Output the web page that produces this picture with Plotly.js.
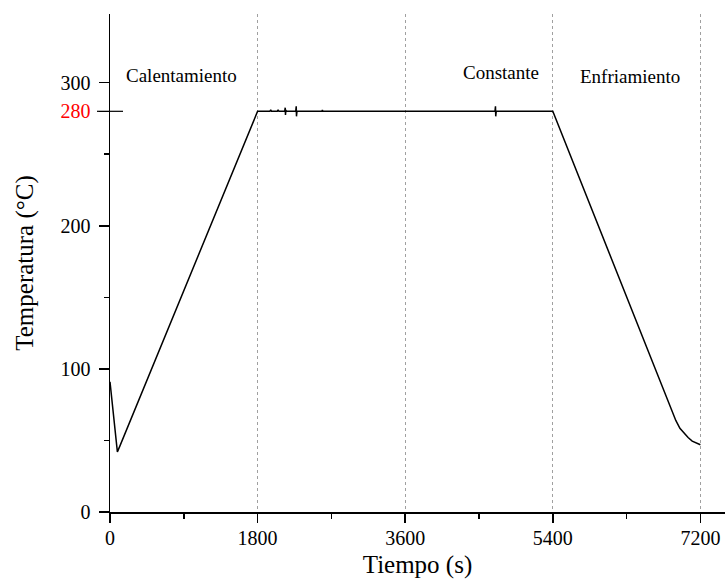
<!DOCTYPE html>
<html>
<head>
<meta charset="utf-8">
<script src="https://cdn.plot.ly/plotly-3.0.1.min.js"></script>
<style>html,body{margin:0;padding:0;background:#fff;}#chart{width:725px;height:587px;}</style>
</head>
<body>
<div id="chart"></div>
<script>
// Time (s) and temperature (°C)
const timeS = [0, 20, 45, 70, 90, 120, 1800,
  1950, 1960, 1970, 2040, 2050, 2060, 2130, 2137, 2140, 2145, 2150,
  2265, 2271, 2274, 2280, 2585, 2590, 2595,
  4695, 4701, 4704, 4710, 5400,
  6900, 6950, 7000, 7050, 7100, 7150, 7200];
const tempC = [91, 80, 63, 49, 42, 46, 280,
  280, 281, 280, 280, 281, 280, 280, 282.5, 277.5, 281, 280,
  280, 283.5, 276.5, 280, 280, 281, 280,
  280, 283.5, 276.5, 280, 280,
  64, 58.5, 55, 52, 49.5, 48, 47];

const xTickVals = [0, 1800, 3600, 5400, 7200];
const xTickText = ['0', '1800', '3600', '5400', '7200'];
const yTickVals = [0, 100, 200, 280, 300];
const yTickText = ['0', '100', '200', '<span style="color:red">280</span>', '300'];

const phaseLabels = ['Calentamiento', 'Constante', 'Enfriamiento'];
const phaseX = [867, 4774, 6337];
const phaseY = [305, 307, 304];

const font = 'Liberation Serif, Times New Roman, serif';

const trace = {
  x: timeS, y: tempC, type: 'scatter', mode: 'lines',
  line: {color: '#000', width: 1.5}, hoverinfo: 'skip'
};

const layout = {
  width: 725, height: 587,
  margin: {l: 110, r: 0, t: 14, b: 75},
  paper_bgcolor: '#fff', plot_bgcolor: '#fff',
  showlegend: false,
  font: {family: font, color: '#000', size: 20},
  xaxis: {
    range: [0, 7500], tickmode: 'array', tickvals: xTickVals, ticktext: xTickText,
    ticks: 'outside', ticklen: 9, tickwidth: 1.5, tickcolor: '#000',
    ticklabelstandoff: -2,
    showline: true, linecolor: '#000', linewidth: 1.5,
    showgrid: true, gridcolor: '#a0a0a0', gridwidth: 1, griddash: '3px,3px',
    zeroline: false,
    minor: {tick0: 0, dtick: 900, ticks: 'outside', ticklen: 5, tickwidth: 1.5, tickcolor: '#000', showgrid: false},
    tickfont: {family: font, size: 20, color: '#000'},
    title: {text: 'Tiempo (s)', font: {family: font, size: 25, color: '#000'}, standoff: 8},
    automargin: false
  },
  yaxis: {
    range: [0, 348], tickmode: 'array', tickvals: yTickVals, ticktext: yTickText,
    ticks: 'outside', ticklen: 10, tickwidth: 1.5, tickcolor: '#000',
    ticklabelstandoff: 4,
    showline: true, linecolor: '#000', linewidth: 1.5,
    showgrid: false, zeroline: false,
    minor: {tick0: 0, dtick: 50, ticks: 'outside', ticklen: 5, tickwidth: 1.5, tickcolor: '#000', showgrid: false},
    tickfont: {family: font, size: 20, color: '#000'},
    title: {text: 'Temperatura (°C)', font: {family: font, size: 25, color: '#000'}, standoff: 20},
    automargin: false
  },
  shapes: [{
    type: 'line', xref: 'paper', yref: 'y',
    x0: -13 / 615, x1: 13 / 615, y0: 280, y1: 280,
    line: {color: '#000', width: 1.2}
  }],
  annotations: phaseLabels.map((t, i) => ({
    x: phaseX[i], y: phaseY[i], xref: 'x', yref: 'y', text: t, showarrow: false,
    font: {family: font, size: 19, color: '#000'}
  }))
};

Plotly.newPlot('chart', [trace], layout, {displayModeBar: false, staticPlot: true});
</script>
</body>
</html>
